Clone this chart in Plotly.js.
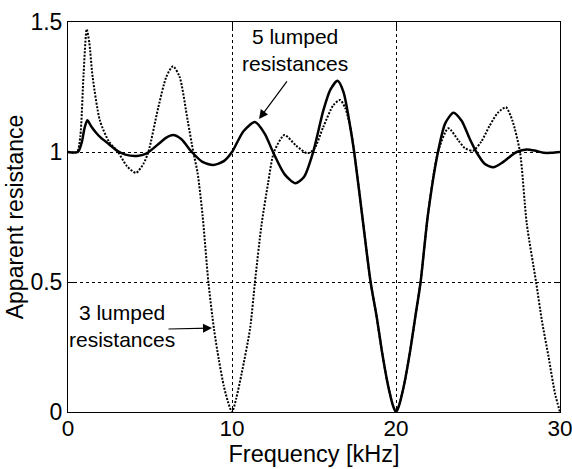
<!DOCTYPE html>
<html>
<head>
<meta charset="utf-8">
<script src="https://cdn.plot.ly/plotly-3.0.1.min.js"></script>
<style>html,body{margin:0;padding:0;background:#fff;}#chart{width:572px;height:469px;}</style>
</head>
<body>
<div id="chart"></div>
<script>
// 5 lumped resistances (solid)
const freq5 = [0, 0.6, 0.85, 1.0, 1.18, 1.4, 1.7, 2.0, 2.5, 3.0, 3.5, 4.2, 4.8, 5.5, 6.0, 6.4, 6.9, 7.55, 8.2, 8.85, 9.5, 10.0, 10.7, 11.4, 12.0, 12.5, 13.2, 13.85, 14.4, 14.95, 15.57, 16.0, 16.44, 16.8, 17.2, 17.45, 17.95, 18.45, 18.82, 19.13, 19.49, 19.84, 20.0, 20.16, 20.51, 20.87, 21.18, 21.5, 21.95, 22.56, 23.0, 23.5, 24.0, 24.5, 24.9, 25.4, 25.93, 26.5, 27.0, 27.36, 27.97, 28.5, 29.0, 29.5, 30];
const res5 = [1.0, 1.0, 1.04, 1.09, 1.122, 1.1, 1.075, 1.055, 1.03, 1.005, 0.99, 0.985, 0.995, 1.03, 1.055, 1.065, 1.05, 1.0, 0.962, 0.95, 0.965, 1.0, 1.08, 1.115, 1.07, 1.0, 0.915, 0.88, 0.905, 1.0, 1.16, 1.24, 1.274, 1.23, 1.1, 1.0, 0.75, 0.5, 0.367, 0.238, 0.11, 0.02, 0.0, 0.02, 0.11, 0.238, 0.367, 0.5, 0.76, 1.0, 1.11, 1.151, 1.12, 1.05, 1.0, 0.955, 0.941, 0.96, 0.985, 1.0, 1.01, 1.005, 0.997, 0.997, 1.0];

// 3 lumped resistances (dotted)
const freq3 = [0, 0.55, 0.75, 0.95, 1.14, 1.3, 1.5, 1.95, 2.5, 3.05, 3.6, 4.15, 4.6, 4.9, 5.5, 6.0, 6.4, 6.8, 7.3, 7.64, 7.9, 8.2, 8.56, 8.9, 9.2, 9.5, 9.75, 10.0, 10.25, 10.59, 11.1, 11.4, 11.8, 12.2, 12.56, 13.2, 13.9, 14.6, 15.0, 15.57, 16.18, 16.59, 16.9, 17.2, 17.45, 17.95, 18.45, 18.82, 19.13, 19.49, 19.84, 20.0, 20.16, 20.51, 20.87, 21.18, 21.5, 21.95, 22.56, 23.19, 23.8, 24.2, 24.7, 25.2, 25.7, 26.2, 26.7, 27.1, 27.56, 27.97, 28.54, 28.9, 29.3, 29.7, 30];
const res3 = [1.0, 1.0, 1.06, 1.3, 1.472, 1.42, 1.29, 1.12, 1.04, 1.0, 0.945, 0.92, 0.955, 1.0, 1.17, 1.29, 1.33, 1.29, 1.12, 1.0, 0.92, 0.76, 0.5, 0.32, 0.2, 0.1, 0.04, 0.0, 0.05, 0.149, 0.32, 0.5, 0.72, 0.88, 1.0, 1.065, 1.025, 0.995, 1.01, 1.097, 1.18, 1.2, 1.17, 1.1, 1.0, 0.75, 0.5, 0.367, 0.238, 0.11, 0.02, 0.0, 0.02, 0.11, 0.238, 0.367, 0.5, 0.76, 1.0, 1.091, 1.045, 1.015, 1.005, 1.04, 1.1, 1.15, 1.172, 1.12, 1.0, 0.726, 0.5, 0.35, 0.213, 0.07, 0.0];

const xTicks = [0, 10, 20, 30];
const yTicks = [0, 0.5, 1, 1.5];
const yTickText = ['0', '0.5', '1', '1.5'];

const FONT = 'Arial, "Liberation Sans", Helvetica, sans-serif';

const traces = [
  {x: freq3, y: res3, mode: 'lines', name: '3 lumped resistances',
   line: {color: '#000', width: 2, dash: '2px,1.5px', shape: 'spline', smoothing: 0.7}},
  {x: freq5, y: res5, mode: 'lines', name: '5 lumped resistances',
   line: {color: '#000', width: 2.5, shape: 'spline', smoothing: 0.7}}
];

const layout = {
  width: 572, height: 469,
  margin: {l: 68, r: 12, t: 22, b: 57},
  paper_bgcolor: '#fff', plot_bgcolor: '#fff',
  showlegend: false,
  font: {family: FONT, color: '#000', size: 21},
  xaxis: {
    range: [0, 30], tickvals: xTicks, ticktext: xTicks.map(String),
    showline: true, linecolor: '#000', linewidth: 1, mirror: 'ticks',
    ticks: 'inside', ticklen: 6, tickcolor: '#000',
    showgrid: true, gridcolor: '#000', gridwidth: 1, griddash: '3px,3px',
    zeroline: false, tickfont: {size: 22.5, family: FONT},
    ticklabeloverflow: 'allow', ticklabelstandoff: -4,
    title: {text: 'Frequency [kHz]', font: {size: 23.5, family: FONT}, standoff: 0}
  },
  yaxis: {
    range: [0, 1.5], tickvals: yTicks, ticktext: yTickText,
    showline: true, linecolor: '#000', linewidth: 1, mirror: 'ticks',
    ticks: 'inside', ticklen: 6, tickcolor: '#000',
    showgrid: true, gridcolor: '#000', gridwidth: 1, griddash: '3px,3px',
    zeroline: false, tickfont: {size: 23, family: FONT},
    title: {text: 'Apparent resistance', font: {size: 23, family: FONT}, standoff: 0}
  },
  annotations: [
    {x: 13.84, y: 1.392, xref: 'x', yref: 'y', text: '5 lumped<br>resistances',
     showarrow: false, font: {size: 21, family: FONT}, align: 'center'},
    {x: 11.65, y: 1.127, xref: 'x', yref: 'y', text: '', showarrow: true,
     ax: 29, ay: -39, arrowhead: 2, arrowsize: 1.5, arrowwidth: 1.2, arrowcolor: '#000'},
    {x: 3.3, y: 0.331, xref: 'x', yref: 'y', text: '3 lumped<br>resistances',
     showarrow: false, font: {size: 21, family: FONT}, align: 'center'},
    {x: 8.78, y: 0.323, xref: 'x', yref: 'y', text: '', showarrow: true,
     ax: -45, ay: 1, arrowhead: 2, arrowsize: 1.5, arrowwidth: 1.2, arrowcolor: '#000'}
  ]
};

Plotly.newPlot('chart', traces, layout, {displayModeBar: false, staticPlot: true});
</script>
</body>
</html>
